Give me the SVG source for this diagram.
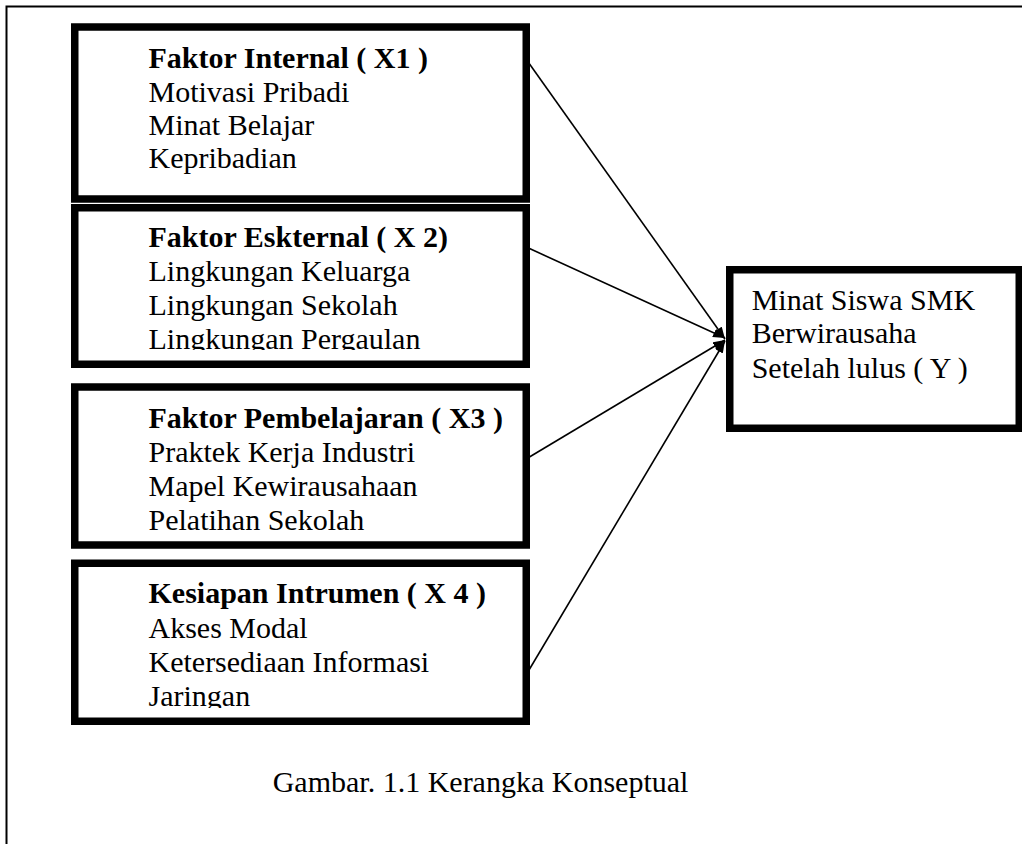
<svg xmlns="http://www.w3.org/2000/svg" width="1022" height="844" viewBox="0 0 1022 844">
<style>
.box{fill:#fff;stroke:#000;stroke-width:7.5}
.t{font-family:"Liberation Serif","Times New Roman",serif;font-size:30px;fill:#000}
.b{font-weight:bold}
.con{stroke:#000;stroke-width:1.6;fill:none}
.frame{stroke:#000;stroke-width:2;fill:none}
</style>
<defs>
<marker id="arr" markerUnits="userSpaceOnUse" markerWidth="13" markerHeight="10" refX="12" refY="4.5" orient="auto">
<path d="M0,0 L12,4.5 L0,9 Z" fill="#000"/>
</marker>
<clipPath id="c2"><rect x="79" y="211" width="444" height="139"/></clipPath>
<clipPath id="c4"><rect x="79" y="567" width="444" height="141"/></clipPath>
</defs>
<rect width="1022" height="844" fill="#fff"/>
<path class="frame" d="M6.5,844 V6.5 H1022"/>

<g id="x1">
<rect class="box" x="74.75" y="27" width="451.5" height="172"/>
<text class="t b" x="148.5" y="68.3">Faktor Internal ( X1 )</text>
<text class="t" x="148.5" y="101.7">Motivasi Pribadi</text>
<text class="t" x="148.5" y="135">Minat Belajar</text>
<text class="t" x="148.5" y="168.3">Kepribadian</text>
</g>

<g id="x2">
<rect class="box" x="74.75" y="207.75" width="451.5" height="156.5"/>
<g clip-path="url(#c2)">
<text class="t b" x="148.5" y="246.7">Faktor Eskternal ( X 2)</text>
<text class="t" x="148.5" y="280.5">Lingkungan Keluarga</text>
<text class="t" x="148.5" y="314.5">Lingkungan Sekolah</text>
<text class="t" x="148.5" y="348.5">Lingkungan Pergaulan</text>
</g>
</g>

<g id="x3">
<rect class="box" x="74.75" y="387" width="451.5" height="158"/>
<text class="t b" x="148.5" y="428.3">Faktor Pembelajaran ( X3 )</text>
<text class="t" x="148.5" y="461.7">Praktek Kerja Industri</text>
<text class="t" x="148.5" y="496">Mapel Kewirausahaan</text>
<text class="t" x="148.5" y="530">Pelatihan Sekolah</text>
</g>

<g id="x4">
<rect class="box" x="74.75" y="563.25" width="451.5" height="158"/>
<g clip-path="url(#c4)">
<text class="t b" x="148.5" y="603.3">Kesiapan Intrumen ( X 4 )</text>
<text class="t" x="148.5" y="637.7">Akses Modal</text>
<text class="t" x="148.5" y="671.7">Ketersediaan Informasi</text>
<text class="t" x="148.5" y="706">Jaringan</text>
</g>
</g>

<g id="y">
<rect class="box" x="729.75" y="269.75" width="289.5" height="158.5"/>
<text class="t" x="751.7" y="310">Minat Siswa SMK</text>
<text class="t" x="751.7" y="343.3">Berwirausaha</text>
<text class="t" x="751.7" y="378.3">Setelah lulus ( Y )</text>
</g>

<g id="connectors">
<line class="con" x1="529" y1="63.3" x2="725" y2="339" marker-end="url(#arr)"/>
<line class="con" x1="529" y1="248.3" x2="725" y2="338" marker-end="url(#arr)"/>
<line class="con" x1="529" y1="457.3" x2="725" y2="340" marker-end="url(#arr)"/>
<line class="con" x1="529" y1="670" x2="725" y2="341" marker-end="url(#arr)"/>
</g>

<g id="caption">
<text class="t" x="272.7" y="791.7">Gambar. 1.1 Kerangka Konseptual</text>
</g>
</svg>
